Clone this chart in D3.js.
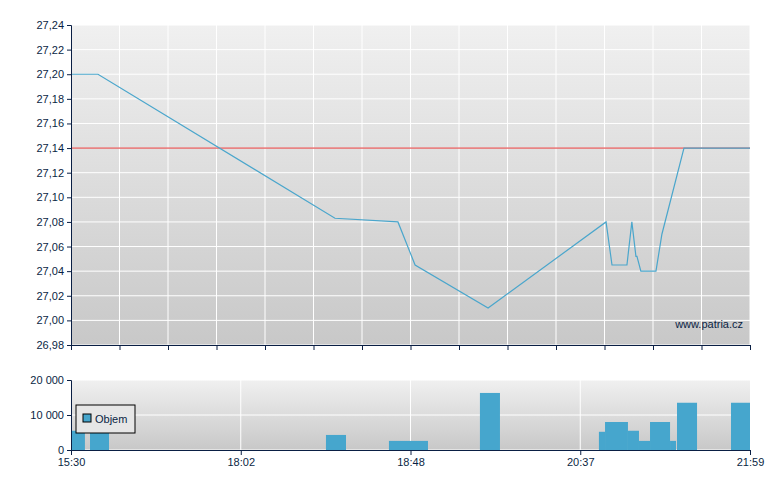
<!DOCTYPE html><html><head><meta charset="utf-8"><script src="https://cdn.jsdelivr.net/npm/d3@7"></script>
<style>body{margin:0;background:#fff}text{font-family:"Liberation Sans",Arial,sans-serif;font-size:11px;fill:#0a1f44}</style></head><body><svg id="c" width="780" height="490"></svg><script>
const timeLabels=["15:30","18:02","18:48","20:37","21:59"];
const priceX=[0,0.159,1.555,1.926,2.027,2.457,3.152,3.187,3.275,3.304,3.328,3.334,3.357,3.446,3.481,3.611,4];
const priceY=[27.20,27.20,27.083,27.080,27.045,27.010,27.080,27.045,27.045,27.080,27.052,27.052,27.040,27.040,27.070,27.140,27.140];
const refPrice=27.14;
const priceTicks=[26.98,27.00,27.02,27.04,27.06,27.08,27.10,27.12,27.14,27.16,27.18,27.20,27.22,27.24];
const volStart=[0,0.112,1.502,1.873,2.409,3.110,3.146,3.281,3.346,3.411,3.529,3.570,3.888];
const volEnd=[0.082,0.224,1.620,2.103,2.527,3.146,3.281,3.346,3.411,3.529,3.564,3.688,4.0];
const volValues=[5500,5500,4300,2600,2600,16300,5200,8000,5500,2600,8000,2600,13500,13500].slice(0);
const vols=[5500,5500,4300,2600,16300,5200,8000,5500,2600,8000,2600,13500,13500];
const volTicks=[0,10000,20000];
const svg=d3.select("#c");
const defs=svg.append("defs");
const g=defs.append("linearGradient").attr("id","bg").attr("x1",0).attr("y1",0).attr("x2",0).attr("y2",1);
g.append("stop").attr("offset",0).attr("stop-color","#f0f0f0");g.append("stop").attr("offset",1).attr("stop-color","#c8c8c8");
const L=71,R=750;
const x=d3.scaleLinear().domain([0,4]).range([L,R]);
const y=d3.scaleLinear().domain([26.98,27.24]).range([345,25]);
const yv=d3.scaleLinear().domain([0,20000]).range([450,380]);
// upper
svg.append("rect").attr("x",L).attr("y",25).attr("width",R-L).attr("height",320).attr("fill","url(#bg)");
const vg=d3.range(0,4.0001,4/14);
svg.selectAll(".vg").data(vg).join("line").attr("x1",d=>x(d)).attr("x2",d=>x(d)).attr("y1",25).attr("y2",345).attr("stroke","#fff");
svg.selectAll(".hg").data(priceTicks).join("line").attr("x1",L).attr("x2",R).attr("y1",d=>y(d)).attr("y2",d=>y(d)).attr("stroke","#fff");
svg.append("line").attr("x1",L).attr("x2",R).attr("y1",y(refPrice)).attr("y2",y(refPrice)).attr("stroke","#e03030");
svg.append("path").datum(priceX.map((d,i)=>[d,priceY[i]])).attr("d",d3.line().x(d=>x(d[0])).y(d=>y(d[1]))).attr("fill","none").attr("stroke","#4aa6cc").attr("stroke-width",1.2);
const ay=svg.append("g").attr("transform",`translate(${L},0)`).call(d3.axisLeft(y).tickValues(priceTicks).tickSize(4).tickFormat(d=>d3.format(".2f")(d).replace(".",",")));
const ax=svg.append("g").attr("transform","translate(0,345)").call(d3.axisBottom(x).tickValues(vg).tickSize(5).tickFormat(""));
svg.append("text").attr("x",743).attr("y",328).attr("text-anchor","end").text("www.patria.cz");
// lower
svg.append("rect").attr("x",L).attr("y",380).attr("width",R-L).attr("height",70).attr("fill","url(#bg)");
svg.selectAll(".vg2").data([1,2,3]).join("line").attr("x1",d=>x(d)).attr("x2",d=>x(d)).attr("y1",380).attr("y2",450).attr("stroke","#fff");
svg.selectAll(".hg2").data(volTicks).join("line").attr("x1",L).attr("x2",R).attr("y1",d=>yv(d)).attr("y2",d=>yv(d)).attr("stroke","#fff");
svg.selectAll(".bar").data(vols).join("rect").attr("x",(d,i)=>x(volStart[i])).attr("width",(d,i)=>x(volEnd[i])-x(volStart[i])).attr("y",d=>yv(d)).attr("height",d=>450-yv(d)).attr("fill","#46a6cd");
svg.append("g").attr("transform",`translate(${L},0)`).call(d3.axisLeft(yv).tickValues(volTicks).tickSize(4).tickFormat(d=>d3.format(",")(d).replace(/,/g," ")));
svg.append("g").attr("transform","translate(0,450)").call(d3.axisBottom(x).tickValues([0,1,2,3,4]).tickSize(5).tickFormat((d,i)=>timeLabels[i]));
svg.selectAll(".domain,.tick line").attr("stroke","#0a1f44");
svg.append("rect").attr("x",76).attr("y",405).attr("width",59).attr("height",28).attr("fill","#e6e6e6").attr("stroke","#000");
svg.append("rect").attr("x",83).attr("y",414).attr("width",8).attr("height",8).attr("fill","#46a6cd").attr("stroke","#000");
svg.append("text").attr("x",95).attr("y",423).text("Objem");
</script></body></html>
